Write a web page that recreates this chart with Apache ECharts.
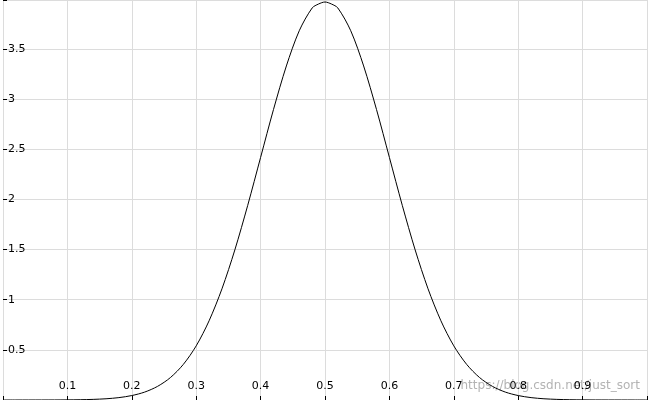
<!DOCTYPE html>
<html>
<head>
<meta charset="utf-8">
<script src="https://cdn.jsdelivr.net/npm/echarts@6/dist/echarts.min.js"></script>
<style>html,body{margin:0;padding:0;background:#fff}#main{width:650px;height:400px}</style>
</head>
<body>
<div id="main"></div>
<script>
// x positions and curve heights
var xs = [0,0.02,0.04,0.06,0.08,0.1,0.12,0.14,0.16,0.18,0.2,0.22,0.24,0.26,0.28,0.3,0.32,0.34,0.36,0.38,0.4,0.42,0.44,0.46,0.48,0.49,0.5,
          0.51,0.52,0.54,0.56,0.58,0.6,0.62,0.64,0.66,0.68,0.7,0.72,0.74,0.76,0.78,0.8,0.82,0.84,0.86,0.88,0.9,0.92,0.94,0.96,0.98,1];
var ys = [0,0,0.0001,0.0003,0.0006,0.0013,0.0029,0.0061,0.0123,0.0238,0.0443,0.079,0.136,0.224,0.355,0.54,0.79,1.109,1.497,1.942,2.42,2.897,3.332,3.683,3.91,3.95,3.97,
          3.95,3.91,3.683,3.332,2.897,2.42,1.942,1.497,1.109,0.79,0.54,0.355,0.224,0.136,0.079,0.0443,0.0238,0.0123,0.0061,0.0029,0.0013,0.0006,0.0003,0.0001,0,0];
var xTicks = [0.1,0.2,0.3,0.4,0.5,0.6,0.7,0.8,0.9];
var yTicks = [0.5,1,1.5,2,2.5,3,3.5];

var pts = xs.map(function(x, i){ return [x, ys[i]]; });
var myChart = echarts.init(document.getElementById('main'));
myChart.setOption({
    animation: false,
    grid: {left: 0, right: 0, top: 0, bottom: 0},
    xAxis: {
        type: 'value', min: 0, max: 1, interval: 0.1,
        axisLine: {show: false},
        axisTick: {show: true, inside: true, length: 4, lineStyle: {color: '#000'}},
        splitLine: {lineStyle: {color: '#dcdcdc', width: 1}},
        axisLabel: {inside: true, margin: 8, color: '#000', fontSize: 11, fontFamily: 'DejaVu Sans',
            formatter: function(v){ return xTicks.indexOf(Math.round(v*10)/10) >= 0 ? String(Math.round(v*10)/10) : ''; }}
    },
    yAxis: {
        type: 'value', min: 0, max: 3.99, interval: 0.5,
        axisLine: {show: false},
        axisTick: {show: true, inside: true, length: 4, lineStyle: {color: '#000'}},
        splitLine: {lineStyle: {color: '#dcdcdc', width: 1}},
        axisLabel: {inside: true, margin: 5, color: '#000', fontSize: 11, fontFamily: 'DejaVu Sans',
            formatter: function(v){ return yTicks.indexOf(v) >= 0 ? String(v) : ''; }}
    },
    series: [{
        type: 'line', data: pts, smooth: 0.3, showSymbol: false,
        lineStyle: {color: '#000', width: 1}
    }],
    graphic: [{
        type: 'text', right: 10, bottom: 8,
        style: {text: 'https://blog.csdn.net/just_sort', fill: 'rgba(160,160,160,0.8)', fontSize: 12, fontFamily: 'DejaVu Sans'}
    }]
});
</script>
</body>
</html>
